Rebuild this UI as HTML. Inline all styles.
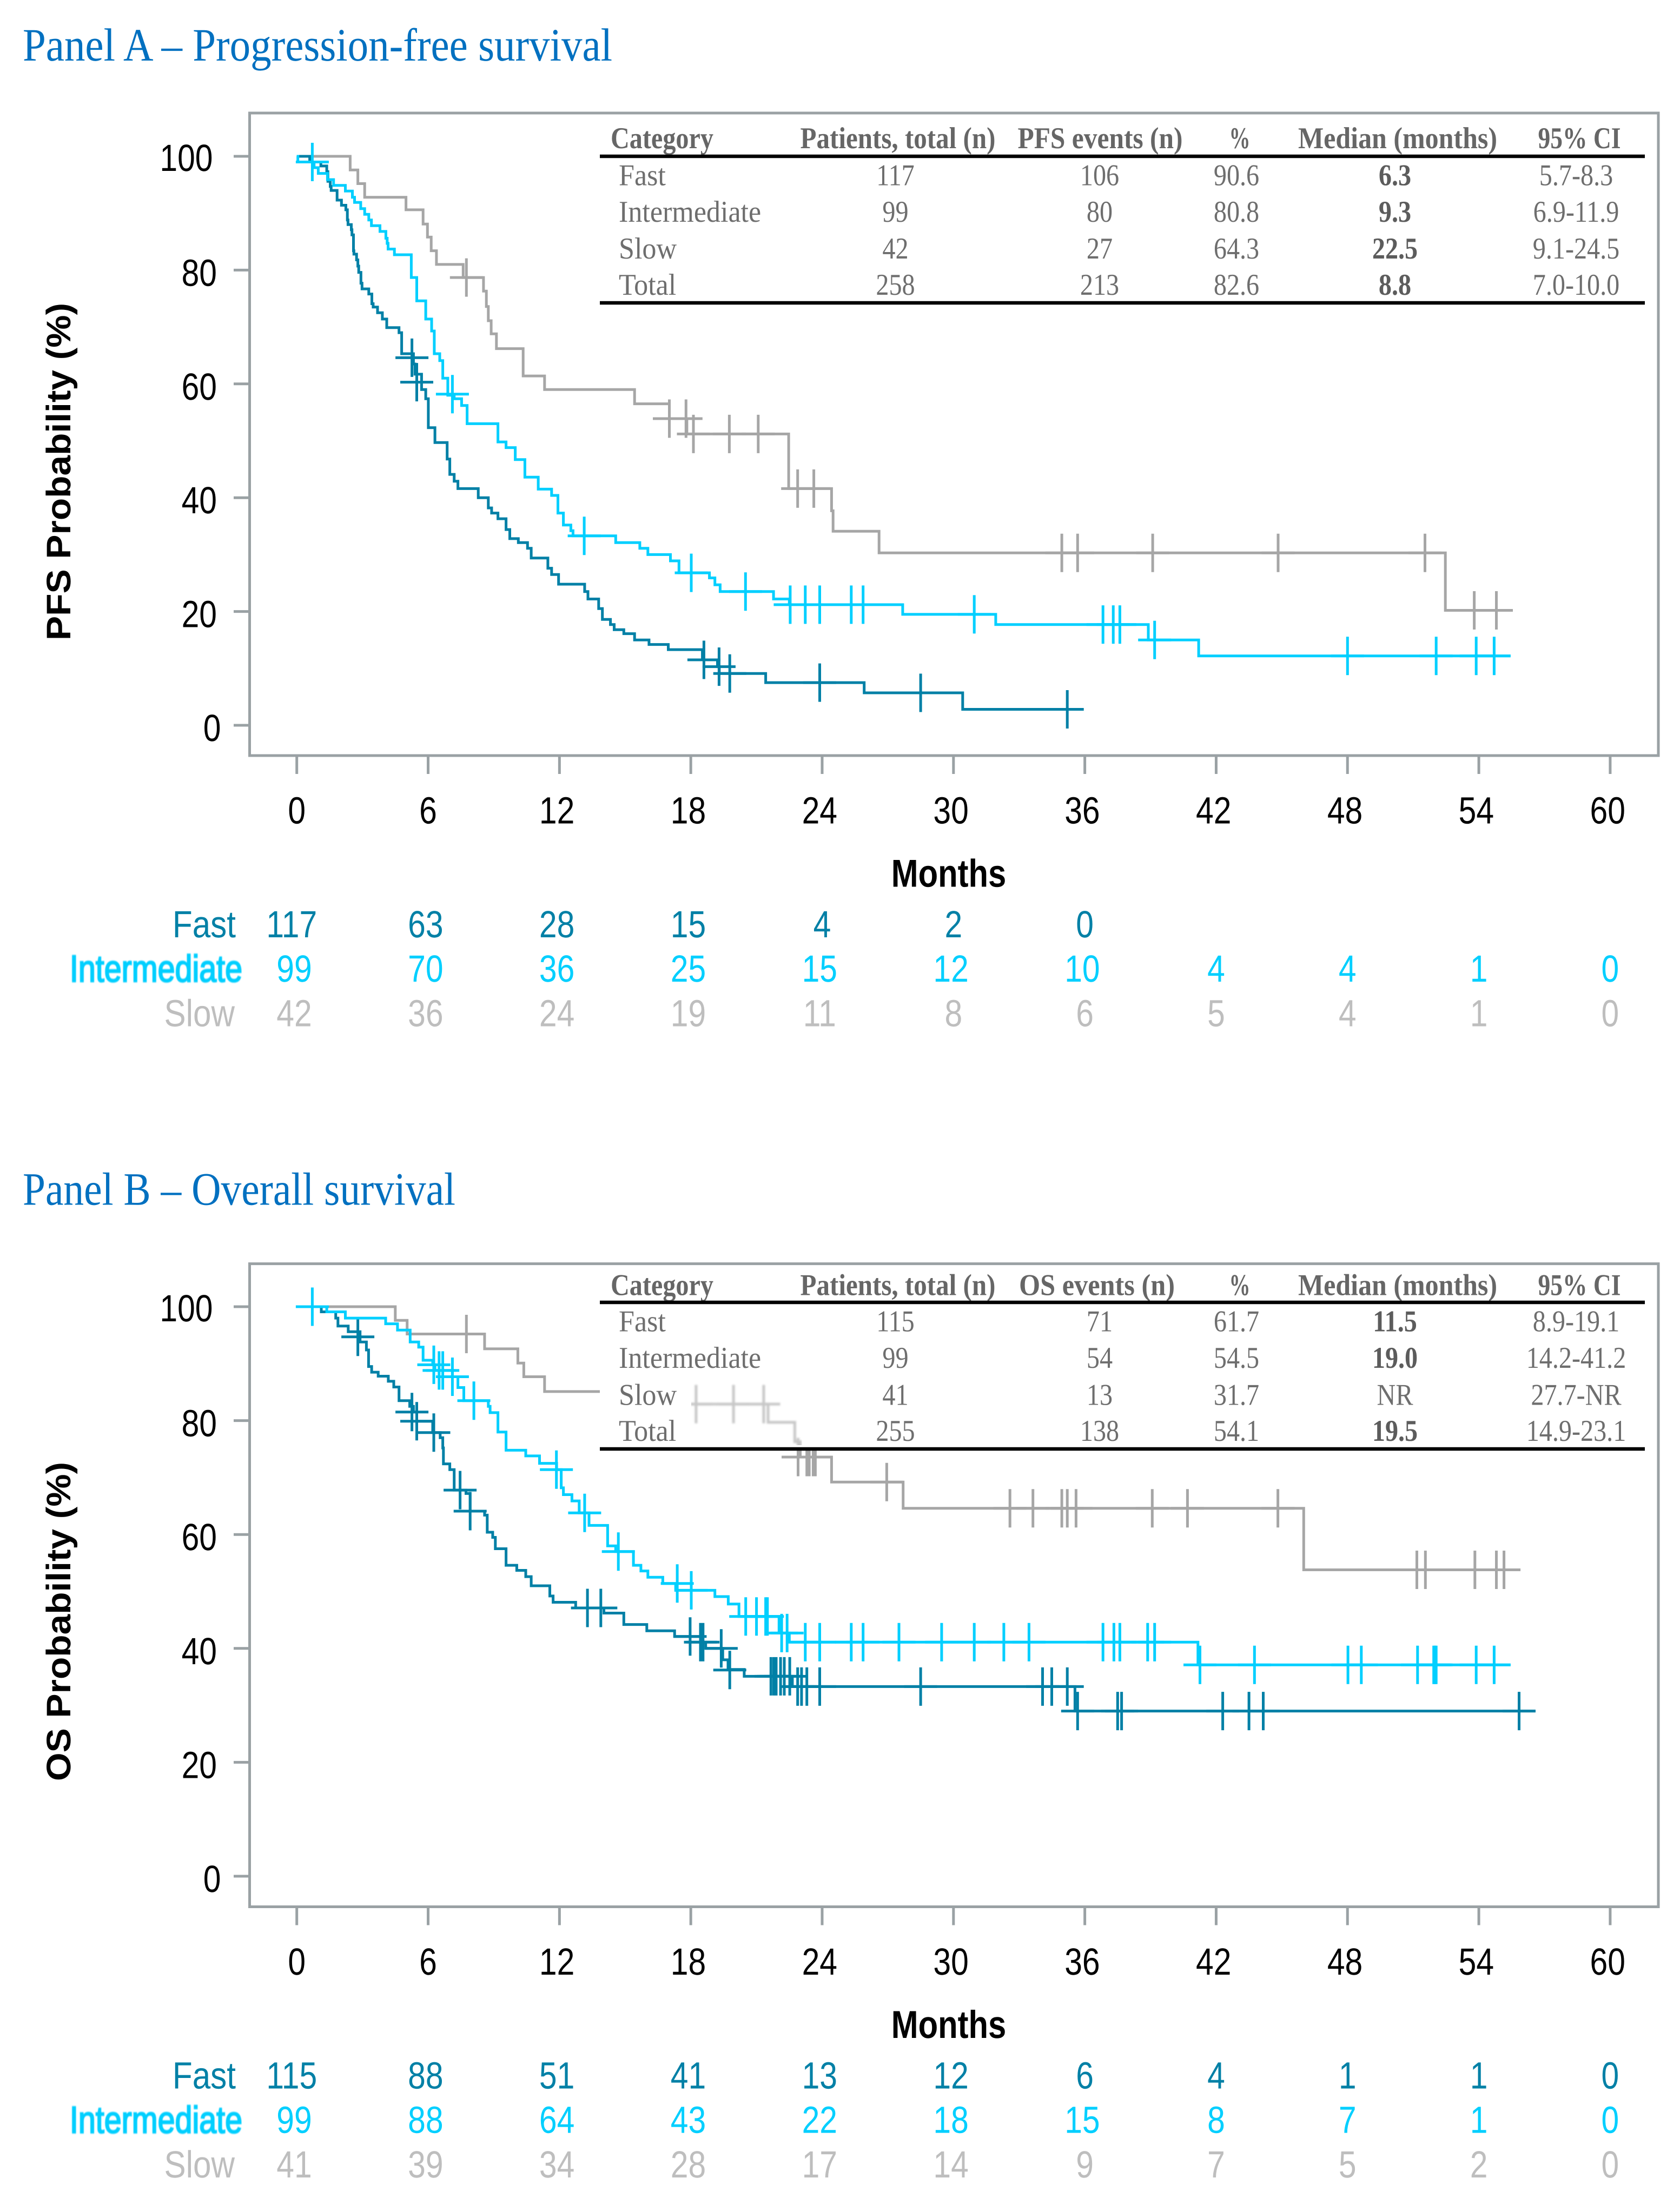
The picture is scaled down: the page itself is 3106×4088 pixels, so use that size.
<!DOCTYPE html>
<html lang="en">
<head>
<meta charset="utf-8">
<title>Kaplan-Meier survival by progression category</title>
<style>
html,body{margin:0;padding:0;background:#fff;}
svg{display:block;text-rendering:geometricPrecision;}
</style>
</head>
<body>
<svg id="figure" xmlns="http://www.w3.org/2000/svg" width="3106" height="4088" viewBox="0 0 3106 4088">
<defs>
<filter id="soft" x="-10%" y="-30%" width="120%" height="160%"><feGaussianBlur stdDeviation="1.1"/></filter>
<filter id="ghostblur" x="-10%" y="-10%" width="120%" height="120%"><feGaussianBlur stdDeviation="1.6"/></filter>
<clipPath id="ghostclip"><rect x="1278" y="2540" width="205" height="132"/></clipPath>
</defs>
</svg>
<script>
const monthTicks = [0, 6, 12, 18, 24, 30, 36, 42, 48, 54, 60];
const probTicks = [0, 20, 40, 60, 80, 100];

/* Panel A - PFS */
const pfsFastTimes = [0, 0.59, 1.1, 1.37, 1.42, 1.53, 1.57, 1.84, 2.04, 2.24, 2.31, 2.34, 2.49, 2.52, 2.59, 2.61, 2.73, 2.79, 2.83, 2.93, 2.98, 3.29, 3.43, 3.49, 3.69, 3.91, 4.11, 4.67, 4.79, 5.33, 5.4, 5.7, 5.89, 6.01, 6.31, 6.87, 6.99, 7.19, 7.36, 8.29, 8.75, 8.9, 9.19, 9.56, 9.73, 10.12, 10.54, 10.71, 11.47, 11.64, 11.96, 13.15, 13.3, 13.79, 13.96, 14.33, 14.5, 14.94, 15.43, 16.09, 16.97, 18.53, 19.22, 19.3, 21.42, 25.92, 30.42, 35.53];
const pfsFastProbs = [100, 99, 98.3, 97.3, 95.6, 94.7, 94.0, 92.3, 91.4, 90.6, 88.8, 88.0, 87.1, 86.2, 83.4, 82.8, 81.8, 80.7, 79.6, 77.7, 76.7, 75.8, 74.1, 73.5, 72.5, 71.4, 69.9, 69.0, 65.3, 63.5, 61.7, 59.0, 57.4, 52.3, 49.7, 46.8, 44.1, 42.9, 41.6, 40.0, 38.2, 37.3, 36.3, 34.4, 32.8, 32.1, 31.1, 29.4, 27.6, 26.5, 24.8, 23.5, 22.2, 20.5, 18.6, 17.7, 16.8, 16.1, 15.0, 14.2, 13.3, 11.5, 10.3, 9.1, 7.5, 5.7, 2.8, 2.8];
const pfsFastCensorTimes = [5.26, 5.48, 18.6, 19.29, 19.78, 23.89, 28.5, 35.2];
const pfsFastCensorProbs = [64.6, 60.3, 11.5, 10.3, 9.1, 7.5, 5.7, 2.8];

const pfsInterTimes = [0, 0.05, 0.79, 0.98, 1.4, 1.68, 2.22, 2.54, 2.64, 2.92, 3.1, 3.29, 3.41, 3.8, 4.07, 4.13, 4.17, 4.46, 5.23, 5.48, 5.89, 6.16, 6.28, 6.53, 6.67, 6.9, 7.19, 7.53, 7.78, 9.19, 9.56, 9.98, 10.42, 11.03, 11.64, 11.93, 12.18, 12.52, 12.62, 14.57, 15.67, 16.04, 17.07, 17.46, 18.85, 19.1, 19.34, 21.78, 22.5, 27.68, 31.93, 38.9, 41.2, 55.44];
const pfsInterProbs = [100, 99, 98, 97, 95.9, 94.9, 93.9, 92.8, 91.9, 90.8, 89.8, 88.8, 87.8, 86.8, 85.6, 84.7, 83.7, 82.7, 78.7, 74.6, 71.4, 69.3, 65.3, 64.1, 61.0, 58.0, 57.4, 56.2, 53.0, 49.8, 48.8, 46.7, 43.6, 41.5, 40.4, 37.3, 35.2, 34.2, 33.3, 32.1, 31.1, 30.0, 28.9, 26.8, 25.9, 24.7, 23.5, 22.2, 21.2, 19.5, 17.7, 15.0, 12.2, 12.2];
const pfsInterCensorTimes = [0.71, 7.11, 13.13, 18.02, 20.5, 22.54, 23.23, 23.89, 25.33, 25.87, 30.95, 36.83, 37.3, 37.6, 39.19, 48.0, 52.05, 53.88, 54.7];
const pfsInterCensorProbs = [99, 58.2, 33.3, 26.8, 23.5, 21.2, 21.2, 21.2, 21.2, 21.2, 19.5, 17.7, 17.7, 17.7, 15.0, 12.2, 12.2, 12.2, 12.2];

const pfsSlowTimes = [0, 2.44, 2.79, 3.1, 4.99, 5.77, 5.97, 6.14, 6.38, 7.6, 8.53, 8.66, 8.75, 8.88, 9.12, 10.34, 11.32, 15.43, 17.02, 17.82, 22.47, 24.43, 24.5, 26.6, 52.47, 55.5];
const pfsSlowProbs = [100, 97.6, 95.2, 92.8, 90.6, 88.1, 85.8, 83.4, 81.0, 78.7, 76.3, 73.6, 71.1, 68.8, 66.2, 61.4, 59.0, 56.5, 53.9, 51.2, 41.6, 37.7, 34.1, 30.3, 20.2, 20.2];
const pfsSlowCensorTimes = [7.75, 17.02, 17.78, 18.12, 19.76, 21.08, 22.88, 23.62, 34.95, 35.67, 39.1, 44.83, 51.54, 53.79, 54.8];
const pfsSlowCensorProbs = [78.7, 53.9, 53.9, 51.2, 51.2, 51.2, 41.6, 41.6, 30.3, 30.3, 30.3, 30.3, 30.3, 20.2, 20.2];

const pfsRiskFast = [117, 63, 28, 15, 4, 2, 0];
const pfsRiskInter = [99, 70, 36, 25, 15, 12, 10, 4, 4, 1, 0];
const pfsRiskSlow = [42, 36, 24, 19, 11, 8, 6, 5, 4, 1, 0];

/* Panel B - OS */
const osFastTimes = [0, 1.12, 1.78, 1.88, 2.35, 2.89, 3.18, 3.28, 3.42, 3.72, 4.18, 4.43, 4.67, 5.16, 5.33, 5.48, 6.21, 6.55, 6.67, 6.7, 6.99, 7.19, 7.73, 7.92, 8.58, 8.7, 8.95, 9.07, 9.56, 10.05, 10.46, 10.71, 11.56, 11.71, 12.74, 14.03, 14.94, 15.99, 17.26, 18.48, 18.68, 19.46, 19.7, 20.44, 22.64, 35.55, 56.58];
const osFastProbs = [100, 99.1, 98.0, 96.6, 95.6, 93.8, 92.4, 89.5, 88.5, 87.8, 86.9, 85.9, 83.5, 82.5, 81.5, 79.9, 77.9, 77.0, 75.2, 72.4, 71.4, 67.8, 67.2, 64.1, 63.4, 60.4, 59.5, 57.5, 54.6, 53.7, 52.6, 51.0, 49.2, 48.1, 47.1, 46.2, 44.2, 43.1, 42.1, 41.1, 40.0, 38.0, 36.3, 35.1, 33.3, 29.0, 29.0];
const osFastCensorTimes = [2.79, 5.26, 5.48, 6.26, 7.46, 7.92, 13.28, 13.89, 17.97, 18.44, 18.56, 19.39, 19.78, 21.66, 21.79, 21.9, 22.1, 22.27, 22.52, 22.88, 23.06, 23.3, 23.89, 28.5, 34.07, 34.49, 35.2, 35.67, 37.5, 37.68, 42.3, 43.5, 44.15, 55.84];
const osFastCensorProbs = [94.7, 81.5, 79.9, 77.9, 67.8, 64.1, 47.1, 47.1, 42.1, 41.1, 41.1, 40.0, 36.2, 35.1, 35.1, 35.1, 35.1, 35.1, 35.1, 33.3, 33.3, 33.3, 33.3, 33.3, 33.3, 33.3, 33.3, 29.0, 29.0, 29.0, 29.0, 29.0, 29.0, 29.0];

const osInterTimes = [0, 1.37, 2.22, 4.06, 4.6, 5.18, 5.57, 5.77, 6.21, 6.31, 7.11, 7.36, 7.63, 8.75, 8.83, 9.19, 9.56, 10.46, 11.09, 11.87, 12.08, 12.18, 12.57, 12.9, 13.35, 14.2, 14.57, 15.38, 15.72, 16.04, 16.72, 17.31, 19.1, 19.71, 20.2, 22.03, 22.5, 41.17, 55.44];
const osInterProbs = [100, 99.1, 98.0, 97.0, 95.9, 93.8, 92.9, 90.6, 89.8, 88.8, 87.7, 85.8, 83.5, 82.5, 81.4, 78.0, 74.8, 73.8, 72.5, 71.4, 68.2, 67.0, 65.9, 63.8, 61.6, 58.0, 57.0, 54.6, 53.6, 52.5, 51.4, 50.2, 49.1, 47.8, 45.6, 42.7, 41.1, 37.1, 37.1];
const osInterCensorTimes = [0.71, 6.26, 6.5, 6.67, 7.11, 8.09, 11.86, 13.15, 14.69, 17.38, 18.02, 20.51, 21.0, 21.42, 21.5, 22.15, 22.4, 23.23, 23.89, 25.33, 25.87, 27.51, 29.46, 30.95, 32.3, 33.45, 36.83, 37.33, 37.6, 38.87, 39.19, 41.26, 43.75, 48.02, 48.63, 51.2, 51.94, 52.0, 52.05, 53.88, 54.7];
const osInterCensorProbs = [100, 89.8, 88.8, 88.8, 87.7, 83.5, 71.4, 63.8, 57.0, 51.4, 50.2, 45.6, 45.6, 45.6, 45.6, 42.7, 42.7, 41.1, 41.1, 41.1, 41.1, 41.1, 41.1, 41.1, 41.1, 41.1, 41.1, 41.1, 41.1, 41.1, 41.1, 37.1, 37.1, 37.1, 37.1, 37.1, 37.1, 37.1, 37.1, 37.1, 37.1];

const osSlowTimes = [0, 4.5, 5.04, 8.58, 10.1, 10.37, 11.32, 14.57, 21.53, 22.75, 23.0, 24.43, 27.7, 46.0, 55.9];
const osSlowProbs = [100, 97.6, 95.2, 92.6, 90.1, 87.7, 85.1, 82.9, 79.7, 76.3, 73.6, 69.2, 64.6, 53.8, 53.8];
const osSlowCensorTimes = [7.75, 18.24, 19.95, 21.33, 22.9, 23.3, 23.41, 23.59, 23.69, 26.95, 32.58, 33.63, 34.95, 35.2, 35.6, 39.08, 40.69, 44.82, 51.17, 51.56, 53.82, 54.8, 55.15];
const osSlowCensorProbs = [95.2, 82.9, 82.9, 82.9, 73.6, 73.6, 73.6, 73.6, 73.6, 69.2, 64.6, 64.6, 64.6, 64.6, 64.6, 64.6, 64.6, 64.6, 53.8, 53.8, 53.8, 53.8, 53.8];

const osRiskFast = [115, 88, 51, 41, 13, 12, 6, 4, 1, 1, 0];
const osRiskInter = [99, 88, 64, 43, 22, 18, 15, 8, 7, 1, 0];
const osRiskSlow = [41, 39, 34, 28, 17, 14, 9, 7, 5, 2, 0];

/* Summary tables */
const rowLabels = ['Fast', 'Intermediate', 'Slow', 'Total'];
const pfsPatients = ['117', '99', '42', '258'];
const pfsEvents = ['106', '80', '27', '213'];
const pfsPercent = ['90.6', '80.8', '64.3', '82.6'];
const pfsMedian = ['6.3', '9.3', '22.5', '8.8'];
const pfsCI = ['5.7-8.3', '6.9-11.9', '9.1-24.5', '7.0-10.0'];
const osPatients = ['115', '99', '41', '255'];
const osEvents = ['71', '54', '13', '138'];
const osPercent = ['61.7', '54.5', '31.7', '54.1'];
const osMedian = ['11.5', '19.0', 'NR', '19.5'];
const osCI = ['8.9-19.1', '14.2-41.2', '27.7-NR', '14.9-23.1'];

const SVGNS = 'http://www.w3.org/2000/svg';
const root = document.getElementById('figure');
const FAST = '#0080a6', INTER = '#00cfff', SLOW = '#a6a6a6', SLOWTEXT = '#bebebe', FRAME = '#9aa1a4';
const SANS = '"Liberation Sans", sans-serif', SERIF = '"Liberation Serif", serif';

const xOf = t => 548.7 + 40.47 * t;

function shape(tag, parent, name, props) {
  const el = document.createElementNS(SVGNS, tag);
  
  
  for (const k in props) el.setAttribute(k, props[k]);
  parent.appendChild(el);
  return el;
}

function group(parent, name) {
  return shape('g', parent, name, {});
}

function label(parent, name, str, x, y, o) {
  const el = document.createElementNS(SVGNS, 'text');
  
  
  el.setAttribute('font-family', o.family || SANS);
  el.setAttribute('font-size', o.size);
  el.setAttribute('fill', o.fill);
  el.setAttribute('text-anchor', o.anchor || 'start');
  if (o.weight) el.setAttribute('font-weight', o.weight);
  if (o.stroke) {
    el.setAttribute('stroke', o.fill);
    el.setAttribute('stroke-width', o.stroke);
  }
  if (o.filter) el.setAttribute('filter', o.filter);
  if (o.len) {
    el.setAttribute('textLength', o.len);
    el.setAttribute('lengthAdjust', 'spacingAndGlyphs');
  }
  const rot = o.rotate ? ' rotate(' + o.rotate + ')' : '';
  el.setAttribute('transform', 'translate(' + x + ',' + y + ')' + rot + ' scale(' + (o.sx || 1) + ',1)');
  el.textContent = str;
  parent.appendChild(el);
  return el;
}

function drawSeries(parent, name, color, times, probs, cTimes, cProbs, yOf) {
  const g = group(parent, name + '-series');
  let d = 'M' + xOf(times[0]).toFixed(1) + ' ' + yOf(probs[0]).toFixed(1);
  for (let i = 1; i < times.length; i++) {
    d += 'H' + xOf(times[i]).toFixed(1) + 'V' + yOf(probs[i]).toFixed(1);
  }
  shape('path', g, name + '-curve', {d: d, fill: 'none', stroke: color, 'stroke-width': 5, 'stroke-linejoin': 'miter'});
  cTimes.forEach((t, i) => {
    const x = xOf(t), y = yOf(cProbs[i]);
    shape('path', g, name + '-censor-mark', {
      d: 'M' + (x - 30.5).toFixed(1) + ' ' + y.toFixed(1) + 'H' + (x + 30.5).toFixed(1) + 'M' + x.toFixed(1) + ' ' + (y - 35.5).toFixed(1) + 'V' + (y + 35.5).toFixed(1),
      fill: 'none', stroke: color, 'stroke-width': 5
    });
  });
}

function drawAxes(parent, top, bottom, yOf, yTitle, yTitleMid, yTitleLen) {
  shape('rect', parent, 'plot-frame', {x: 461.5, y: top, width: 2604.5, height: bottom - top, fill: 'none', stroke: FRAME, 'stroke-width': 5});
  probTicks.forEach(v => {
    const y = yOf(v), s = String(v);
    shape('line', parent, 'y-tick', {x1: 432, x2: 461.5, y1: y, y2: y, stroke: FRAME, 'stroke-width': 5});
    label(parent, 'y-tick-label', s, 416 - 7.5 * s.length, y + (s.length === 3 ? 27 : 29), {size: 70, sx: 0.84, anchor: 'end', fill: '#000'});
  });
  monthTicks.forEach(t => {
    const x = xOf(t), s = String(t);
    shape('line', parent, 'x-tick', {x1: x, x2: x, y1: bottom + 2, y2: bottom + 34, stroke: FRAME, 'stroke-width': 5});
    label(parent, 'x-tick-label', s, x - (s.length - 1) * 4.7, bottom + 125.5, {size: 70, sx: 0.84, anchor: 'middle', fill: '#000'});
  });
  label(parent, 'x-axis-title', 'Months', 1754, bottom + 242.5, {size: 72, sx: 0.83, anchor: 'middle', fill: '#000', weight: 'bold'});
  label(parent, 'y-axis-title', yTitle, 130, yTitleMid, {size: 63, anchor: 'middle', fill: '#000', weight: 'bold', rotate: -90, len: yTitleLen});
}

function drawRisk(parent, bottom, fast, inter, slow) {
  const g = group(parent, 'numbers-at-risk');
  const rows = [
    ['Fast', fast, FAST, bottom + 336, 436, 0.86, 0, ''],
    ['Intermediate', inter, INTER, bottom + 418, 448, 0.82, 2.4, 'url(#soft)'],
    ['Slow', slow, SLOWTEXT, bottom + 500.5, 434, 0.86, 0, '']
  ];
  rows.forEach(r => {
    label(g, 'risk-row-label', r[0], r[4], r[3], {size: 70, sx: r[5], anchor: 'end', fill: r[2], stroke: r[6], filter: r[7]});
    r[1].forEach((n, i) => {
      const s = String(n);
      label(g, 'risk-count', s, xOf(monthTicks[i]) - (s.length - 1) * 4.7, r[3], {size: 70, sx: 0.84, anchor: 'middle', fill: r[2]});
    });
  });
}

function drawTable(parent, headerY, lineTop, lineBottom, rowYs, eventsHead, eventsLen, eventsX, cols) {
  const g = group(parent, 'summary-table');
  const head = {family: SERIF, size: 56, fill: '#666', weight: 'bold', anchor: 'middle'};
  const heads = [
    ['Category', 1224, 190], ['Patients, total (n)', 1660, 361], [eventsHead, eventsX, eventsLen],
    ['%', 2292, 39], ['Median (months)', 2584, 368], ['95% CI', 2920, 153]
  ];
  heads.forEach(h => {
    label(g, 'table-header', h[0], h[1], headerY, Object.assign({}, head, {len: h[2]}));
  });
  shape('line', g, 'table-top-rule', {x1: 1109, x2: 3041, y1: lineTop, y2: lineTop, stroke: '#000', 'stroke-width': 6.5});
  shape('line', g, 'table-bottom-rule', {x1: 1109, x2: 3041, y1: lineBottom, y2: lineBottom, stroke: '#000', 'stroke-width': 6.5});
  rowYs.forEach((y, r) => {
    label(g, 'table-row-label', rowLabels[r], 1144, y, {family: SERIF, size: 56, sx: 0.93, fill: '#6e6e6e'});
    label(g, 'table-patients', cols[0][r], 1655.5, y, {family: SERIF, size: 56, sx: 0.86, fill: '#6e6e6e', anchor: 'middle'});
    label(g, 'table-events', cols[1][r], 2033, y, {family: SERIF, size: 56, sx: 0.86, fill: '#6e6e6e', anchor: 'middle'});
    label(g, 'table-percent', cols[2][r], 2286, y, {family: SERIF, size: 56, sx: 0.86, fill: '#6e6e6e', anchor: 'middle'});
    const nr = cols[3][r] === 'NR';
    label(g, 'table-median', cols[3][r], 2579, y, {family: SERIF, size: 56, sx: 0.86, fill: nr ? '#6e6e6e' : '#5c5c5c', anchor: 'middle', weight: nr ? 'normal' : 'bold'});
    label(g, 'table-ci', cols[4][r], 2914, y, {family: SERIF, size: 56, sx: 0.86, fill: '#6e6e6e', anchor: 'middle'});
  });
}

/* Panel A */
const panelA = group(root, 'panel-a');
const yA = v => 1341 - 10.52 * v;
label(panelA, 'panel-a-title', 'Panel A – Progression-free survival', 42, 112, {family: SERIF, size: 86, fill: '#0070c0', len: 1090});
drawAxes(panelA, 209, 1397, yA, 'PFS Probability (%)', 872, 624);
drawSeries(panelA, 'slow', SLOW, pfsSlowTimes, pfsSlowProbs, pfsSlowCensorTimes, pfsSlowCensorProbs, yA);
drawSeries(panelA, 'fast', FAST, pfsFastTimes, pfsFastProbs, pfsFastCensorTimes, pfsFastCensorProbs, yA);
drawSeries(panelA, 'intermediate', INTER, pfsInterTimes, pfsInterProbs, pfsInterCensorTimes, pfsInterCensorProbs, yA);
drawTable(panelA, 274, 289, 560, [342.5, 410, 478, 545], 'PFS events (n)', 305, 2034, [pfsPatients, pfsEvents, pfsPercent, pfsMedian, pfsCI]);
drawRisk(panelA, 1397, pfsRiskFast, pfsRiskInter, pfsRiskSlow);

/* Panel B */
const panelB = group(root, 'panel-b');
const yB = v => 3469 - 10.53 * v;
label(panelB, 'panel-b-title', 'Panel B – Overall survival', 42, 2227.5, {family: SERIF, size: 86, fill: '#0070c0', len: 800});
drawAxes(panelB, 2336.6, 3525.5, yB, 'OS Probability (%)', 2998, 590);
drawSeries(panelB, 'slow', SLOW, osSlowTimes, osSlowProbs, osSlowCensorTimes, osSlowCensorProbs, yB);
drawSeries(panelB, 'fast', FAST, osFastTimes, osFastProbs, osFastCensorTimes, osFastCensorProbs, yB);
drawSeries(panelB, 'intermediate', INTER, osInterTimes, osInterProbs, osInterCensorTimes, osInterCensorProbs, yB);
shape('rect', panelB, 'table-mask', {x: 1109, y: 2340, width: 1932, height: 339, fill: '#fff'});
const ghostClip = group(panelB, 'slow-curve-ghost-clip');
ghostClip.setAttribute('clip-path', 'url(#ghostclip)');
const ghost = group(ghostClip, 'slow-curve-ghost');
ghost.setAttribute('filter', 'url(#ghostblur)');
ghost.setAttribute('opacity', '0.62');
drawSeries(ghost, 'slow-ghost', SLOW, osSlowTimes, osSlowProbs, osSlowCensorTimes, osSlowCensorProbs, yB);
drawTable(panelB, 2394.6, 2408, 2679, [2461.6, 2529, 2597.4, 2664], 'OS events (n)', 288, 2028, [osPatients, osEvents, osPercent, osMedian, osCI]);
drawRisk(panelB, 3525.5, osRiskFast, osRiskInter, osRiskSlow);
</script>
</body>
</html>
